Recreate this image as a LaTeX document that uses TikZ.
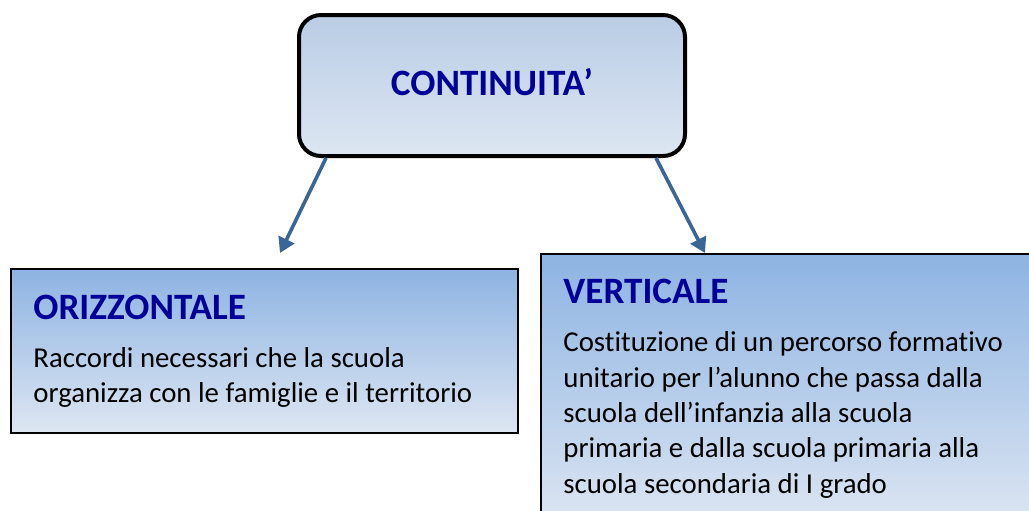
\documentclass[tikz,border=0pt]{standalone}
\usepackage{xcolor}
\usepackage{fontspec}
\setmainfont{Carlito}[Ligatures={NoCommon,NoContextual}]
\usetikzlibrary{arrows.meta}
\definecolor{contBlue}{HTML}{000099}
\definecolor{contArrow}{HTML}{3A6597}
\definecolor{contPale}{HTML}{DDE6F2}
\definecolor{contSoft}{HTML}{B9CDE5}
\definecolor{contSky}{HTML}{8DB3E2}

\begin{document}
\begin{tikzpicture}[x=0.5pt, y=-0.5pt,
    mainbox/.style={rectangle, draw=black, line width=2pt, rounded corners=11pt, top color=contSoft, bottom color=contPale, minimum width=193pt, minimum height=70.5pt, inner sep=0pt},
    kindbox/.style={rectangle, draw=black, line width=1pt, top color=contSky, bottom color=contPale, inner sep=0pt},
    title/.style={font=\fontsize{18.6}{21}\selectfont\bfseries, color=contBlue, inner sep=0pt},
    body/.style={font=\fontsize{14.4}{17.65}\selectfont, align=left, inner sep=0pt},
    arrow/.style={-{Triangle[length=7.5pt,width=8.5pt]}, line width=1.8pt, color=contArrow}
]
\clip (0,0) rectangle (1029,510);

% Main concept
\node[mainbox] (cont) at (492,85.5) {};
\node[title] (contlabel) at (492,82.5) {CONTINUITA’};

% Two kinds
\node[kindbox, minimum width=253.5pt, minimum height=82pt] (oriz) at (264,350.5) {};
\node[title, anchor=base west] (oriztitle) at (33,319) {ORIZZONTALE};
\node[body, anchor=base west] (oriztext) at (33,402.5) {Raccordi necessari che la scuola\\organizza con le famiglie e il territorio};

\node[kindbox, minimum width=252.5pt, minimum height=136pt] (vert) at (793,389.5) {};
\node[title, anchor=base west] (verttitle) at (563,303) {VERTICALE};
\node[body, anchor=base west] (verttext) at (563,493) {Costituzione di un percorso formativo\\unitario per l’alunno che passa dalla\\scuola dell’infanzia alla scuola\\primaria e dalla scuola primaria alla\\scuola secondaria di I grado};

% Connections
\coordinate (ltip) at (280,253);
\coordinate (rtip) at (705,253);
\draw[arrow] ([xshift=14.5pt]cont.south west) -- (ltip);
\draw[arrow] ([xshift=-15.5pt]cont.south east) -- (rtip);

\end{tikzpicture}
\end{document}
